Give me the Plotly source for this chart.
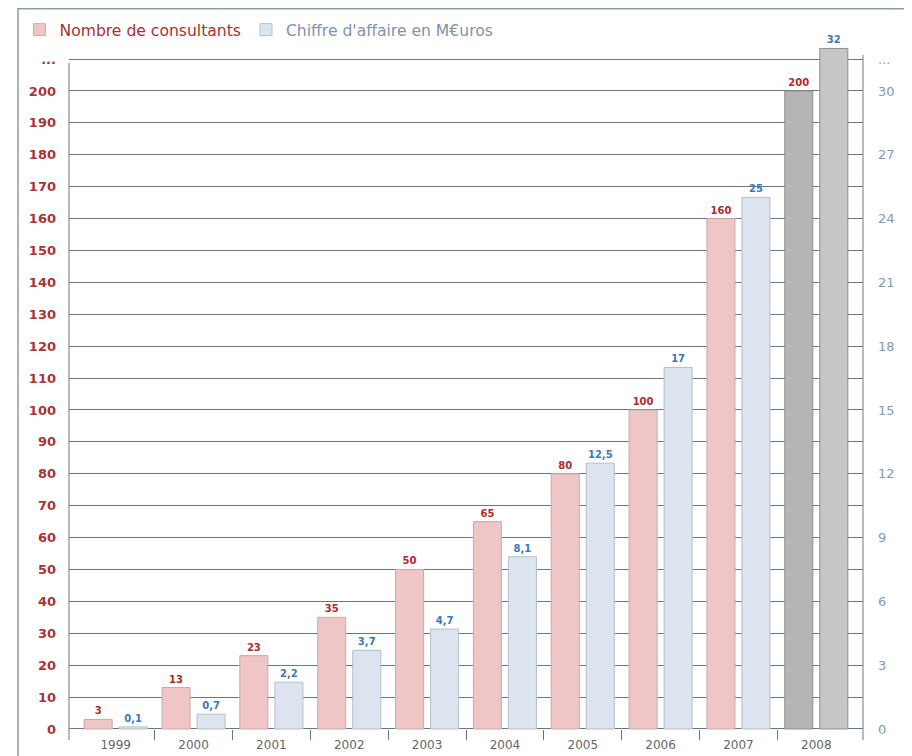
import plotly.graph_objects as go

# ---- data ----
years = ["1999", "2000", "2001", "2002", "2003", "2004", "2005", "2006", "2007", "2008"]
consultants = [3, 13, 23, 35, 50, 65, 80, 100, 160, 200]
consultant_labels = ["3", "13", "23", "35", "50", "65", "80", "100", "160", "200"]
revenue = [0.1, 0.7, 2.2, 3.7, 4.7, 8.1, 12.5, 17, 25, 32]
revenue_labels = ["0,1", "0,7", "2,2", "3,7", "4,7", "8,1", "12,5", "17", "25", "32"]

left_tick_vals = [0, 10, 20, 30, 40, 50, 60, 70, 80, 90, 100, 110, 120, 130, 140,
                  150, 160, 170, 180, 190, 200, 210]
left_tick_text = ["0", "10", "20", "30", "40", "50", "60", "70", "80", "90", "100",
                  "110", "120", "130", "140", "150", "160", "170", "180", "190", "200", "..."]
right_tick_vals = [0, 3, 6, 9, 12, 15, 18, 21, 24, 27, 30, 31.5]
right_tick_text = ["0", "3", "6", "9", "12", "15", "18", "21", "24", "27", "30", "..."]
boundary_vals = [0.5, 1.5, 2.5, 3.5, 4.5, 5.5, 6.5, 7.5, 8.5]

x_idx = list(range(len(years)))
ratio = 0.15  # right axis units per left axis unit
y_range = [-3.45, 214.1]

# ---- styles ----
FONT = "DejaVu Sans"
RED_TXT = "#b02a2a"
BLUE_TXT = "#3b78b8"
GRID = "#66778a"
red_fill = ["#efc5c5"] * 9 + ["#b5b5b5"]
blue_fill = ["#dce5ef"] * 9 + ["#c6c6c6"]
red_line = ["#c9a9ad"] * 9 + ["#8e8e8e"]
blue_line = ["#b3bfcc"] * 9 + ["#8e8e8e"]

fig = go.Figure()
fig.add_trace(go.Bar(
    x=x_idx, y=consultants, name="<span style='color:#a83030'>Nombre de consultants</span>",
    marker=dict(color=red_fill, line=dict(color=red_line, width=1)),
    text=consultant_labels, textposition="outside", constraintext="none",
    textfont=dict(family=FONT, size=10, color=RED_TXT, weight="bold"),
    cliponaxis=False, offsetgroup="a", yaxis="y", hoverinfo="skip",
))
fig.add_trace(go.Bar(
    x=x_idx, y=revenue, name="<span style='color:#7f93ab'>Chiffre d'affaire en M€uros</span>",
    marker=dict(color=blue_fill, line=dict(color=blue_line, width=1)),
    text=revenue_labels, textposition="outside", constraintext="none",
    textfont=dict(family=FONT, size=10, color=BLUE_TXT, weight="bold"),
    cliponaxis=False, offsetgroup="b", yaxis="y2", hoverinfo="skip",
))

fig.update_layout(
    width=904, height=748,
    margin=dict(l=61, r=49, t=38, b=16, autoexpand=False),
    paper_bgcolor="white", plot_bgcolor="white",
    font=dict(family=FONT, size=12, color="#555"),
    barmode="group", bargap=0.1, bargroupgap=0.2,
    showlegend=True,
    legend=dict(orientation="h", xref="container", yref="container",
                x=0.0127, xanchor="left", y=0.9706, yanchor="middle",
                font=dict(family=FONT, size=15.6), itemwidth=30,
                bgcolor="rgba(0,0,0,0)"),
    xaxis=dict(
        range=[-0.6, 9.6], tickmode="array", tickvals=x_idx, ticktext=years,
        ticks="", showgrid=False, zeroline=False, showline=False,
        tickfont=dict(family=FONT, size=12, color="#666"),
        ticklabelstandoff=-4,
        minor=dict(tickmode="array", tickvals=boundary_vals, ticks="inside",
                   ticklen=10, tickcolor=GRID, tickwidth=1, showgrid=False),
    ),
    yaxis=dict(
        range=y_range, tickmode="array", tickvals=left_tick_vals, ticktext=left_tick_text,
        showgrid=True, gridcolor=GRID, gridwidth=1,
        zeroline=True, zerolinecolor=GRID, zerolinewidth=1,
        showline=False, ticks="",
        tickfont=dict(family=FONT, size=13, color="#a83535", weight="bold"),
        ticklabelstandoff=12,
    ),
    yaxis2=dict(
        range=[y_range[0] * ratio, y_range[1] * ratio], overlaying="y", side="right",
        tickmode="array", tickvals=right_tick_vals, ticktext=right_tick_text,
        showgrid=False, zeroline=False, showline=False,
        ticks="", tickfont=dict(family=FONT, size=13, color="#8499b4"),
        ticklabelstandoff=14,
    ),
    shapes=[
        dict(type="rect", xref="paper", yref="paper",
             x0=-0.0642, x1=1.08, y0=-0.05, y1=1.0535,
             line=dict(color="#8a99ab", width=1.5), fillcolor="rgba(0,0,0,0)",
             layer="below"),
        # vertical axis lines (left and right), spanning the y-axis from its bottom
        dict(type="line", xref="paper", yref="y", x0=0, x1=0,
             y0=y_range[0], y1=208.8, line=dict(color=GRID, width=1)),
        dict(type="line", xref="paper", yref="y", x0=1, x1=1,
             y0=y_range[0], y1=211.3, line=dict(color=GRID, width=1)),
    ],
)

fig.write_html("out.html")
